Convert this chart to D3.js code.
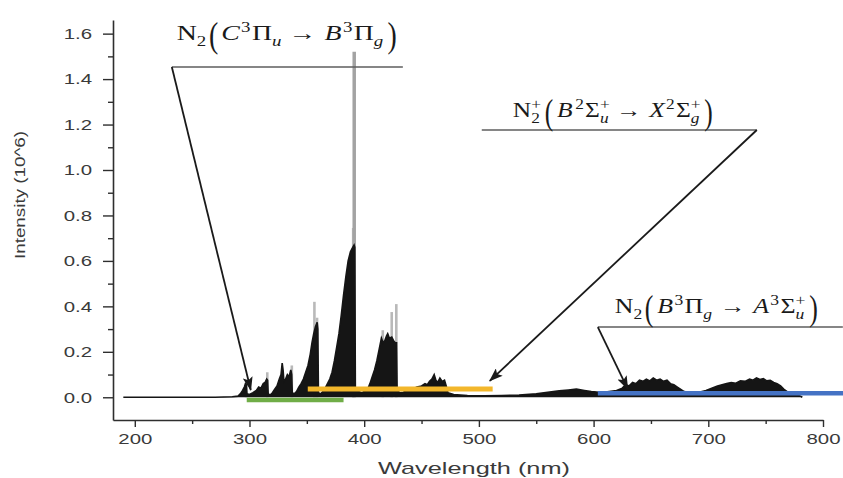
<!DOCTYPE html>
<html><head><meta charset="utf-8">
<script src="https://cdn.jsdelivr.net/npm/d3@7/dist/d3.min.js"></script>
<style>body{margin:0;background:#fff}svg{display:block}</style>
</head><body>
<svg id="c" width="843" height="478"></svg>
<script>
// ---------------- DATA ----------------
const xTicks = [200, 300, 400, 500, 600, 700, 800];
const xMinorTicks = [250, 350, 450, 550, 650, 750];
const yTicks = [0.0, 0.2, 0.4, 0.6, 0.8, 1.0, 1.2, 1.4, 1.6];
const yMinorTicks = [0.1, 0.3, 0.5, 0.7, 0.9, 1.1, 1.3, 1.5];

// black emission spectrum [wavelength nm, intensity 10^6]
const blackTrace = [
  [190,0],[200,0],[220,0],[250,0],[270,0],[285,0.002],[290,0.005],[292,0.015],[294,0.03],
  [295.5,0.045],[296.5,0.06],[297.3,0.055],[297.8,0.015],[300,0.012],[303,0.02],[306,0.03],
  [308,0.045],[310,0.04],[312,0.06],[313.5,0.065],[315,0.08],[315.8,0.075],[316.3,0.015],
  [318,0.01],[320,0.02],[322,0.035],[324,0.05],[326,0.08],[327.5,0.1],[328.5,0.15],[329.3,0.12],
  [330,0.07],[331.5,0.08],[333,0.1],[334.5,0.09],[336,0.12],[336.8,0.1],[337.3,0.02],[339,0.015],
  [341,0.025],[343,0.045],[345,0.06],[347,0.08],[349,0.11],[351,0.14],[353,0.19],[354.5,0.24],
  [356,0.28],[357.5,0.31],[359,0.33],[359.6,0.3],[360.1,0.02],[362,0.015],[364,0.025],[366,0.04],
  [368,0.06],[370,0.08],[372,0.11],[374,0.16],[376,0.22],[378,0.28],[380,0.36],[382,0.45],
  [384,0.53],[386,0.6],[388,0.64],[390,0.66],[391.2,0.67],[391.8,0.66],[392.3,0.03],[395,0.025],
  [398,0.02],[400,0.025],[403,0.035],[405,0.06],[407,0.09],[409,0.12],[411,0.16],[413,0.21],
  [415,0.26],[416.5,0.24],[418,0.25],[419.5,0.27],[420.5,0.28],[422,0.26],[424,0.265],[425.5,0.25],
  [427,0.24],[428.2,0.24],[428.7,0.03],[431,0.02],[434,0.022],[438,0.03],[442,0.035],[446,0.045],
  [450,0.05],[453,0.06],[455,0.055],[457,0.07],[459,0.08],[461,0.1],[462.5,0.075],[464,0.065],
  [466,0.085],[468,0.07],[470,0.075],[471.5,0.05],[473,0.02],[478,0.012],[490,0.008],[505,0.006],
  [520,0.008],[535,0.01],[550,0.015],[560,0.022],[570,0.028],[578,0.032],[585,0.036],[592,0.03],
  [598,0.025],[605,0.022],[612,0.024],[620,0.03],[625,0.04],[628,0.055],[631,0.05],[634,0.065],
  [637,0.06],[640,0.075],[643,0.07],[646,0.08],[649,0.072],[652,0.085],[655,0.075],[658,0.08],
  [661,0.07],[664,0.075],[667,0.06],[670,0.055],[673,0.045],[676,0.035],[679,0.025],[685,0.02],
  [692,0.022],[698,0.03],[703,0.04],[708,0.05],[712,0.055],[716,0.06],[720,0.065],[724,0.062],
  [728,0.072],[732,0.07],[736,0.08],[739,0.075],[742,0.085],[745,0.078],[748,0.082],[751,0.072],
  [754,0.075],[757,0.065],[760,0.06],[763,0.05],[766,0.035],[770,0.02],[775,0.012],[780,0.006],[782,0]
];

// grey (higher) line peaks
const greyPeakW = [297.0, 315.5, 336.9, 356.6, 358.9, 390.4, 391.3, 416.2, 424.0, 428.0];
const greyPeakI = [0.065, 0.11, 0.14, 0.42, 0.35, 0.745, 1.52, 0.295, 0.375, 0.41];

// band-system ranges (nm) and their level marks
const bandNames = ["N2 C-B", "N2+ B-X", "N2 B-A"];
const bandFrom = [297.6, 350.8, 603.7];
const bandTo = [382.0, 512.0, 838.0];
const bandLevel = [-0.012, 0.036, 0.018];

// annotation anchors in data units: label line start/end (nm), line level, arrow tip
const noteLineFrom = [232.3, 502.5, 603.7];
const noteLineTo = [433.7, 742.3, 817.3];
const noteLineLevel = [1.453, 1.176, 0.309];
const noteTipW = [301.1, 509.5, 629.8];
const noteTipI = [0.032, 0.072, 0.036];
const noteTextFrom = [236.6, 529.6, 618.5];
const noteTextTo = [428.4, 703.9, 795.5];
const noteTextLevel = [1.57, 1.233, 0.371];

// ---------------- CHART ----------------
const svg = d3.select("#c");
const x = d3.scaleLinear().domain([181, 800]).range([113, 823]);
const y = d3.scaleLinear().domain([-0.1, 1.66]).range([420, 20]);
const AX = "#2e2e2e";
const SANS = "'Liberation Sans', Arial, sans-serif";
const SERIF = "'Liberation Serif', 'Times New Roman', serif";

// grey peaks
svg.append("g").selectAll("line").data(greyPeakW).join("line")
  .attr("x1", d => x(d)).attr("x2", d => x(d))
  .attr("y1", y(0)).attr("y2", (d, i) => y(greyPeakI[i]))
  .attr("stroke", (d, i) => greyPeakI[i] > 1 ? "#a3a3a3" : "#b9b9b9")
  .attr("stroke-width", (d, i) => greyPeakI[i] > 1 ? 3.5 : 2.6);

// black spectrum
const area = d3.area().x(d => x(d[0])).y0(y(0)).y1(d => y(d[1]));
svg.append("path").datum(blackTrace).attr("d", area).attr("fill", "#151515");
svg.append("path").datum(blackTrace)
  .attr("d", d3.line().x(d => x(d[0])).y(d => y(d[1])))
  .attr("fill", "none").attr("stroke", "#151515").attr("stroke-width", 1.6);

// axes
function styleAxis(g) {
  g.selectAll("path.domain").attr("stroke", AX).attr("stroke-width", 1.6);
  g.selectAll(".tick line").attr("stroke", AX).attr("stroke-width", 1.4);
  g.selectAll(".tick text").attr("fill", "#3a3a3a").attr("font-family", SANS).attr("font-size", 15);
}
const gxm = svg.append("g").attr("transform", "translate(0,420)")
  .call(d3.axisBottom(x).tickValues(xMinorTicks).tickSize(4).tickFormat(""));
gxm.select(".domain").remove(); styleAxis(gxm);
const gym = svg.append("g").attr("transform", "translate(113,0)")
  .call(d3.axisLeft(y).tickValues(yMinorTicks).tickSize(5).tickFormat(""));
gym.select(".domain").remove(); styleAxis(gym);

const gx = svg.append("g").attr("transform", "translate(0,420)")
  .call(d3.axisBottom(x).tickValues(xTicks).tickSize(7).tickSizeOuter(0).tickPadding(6).tickFormat(d3.format("d")));
styleAxis(gx);
const gy = svg.append("g").attr("transform", "translate(113,0)")
  .call(d3.axisLeft(y).tickValues(yTicks).tickSize(10).tickSizeOuter(0).tickPadding(11).tickFormat(d3.format(".1f")));
styleAxis(gy);
// horizontal stretch of tick labels like the reference
svg.selectAll(".tick text").each(function () {
  const w = this.getComputedTextLength();
  if (w > 0) d3.select(this).attr("textLength", w * 1.36).attr("lengthAdjust", "spacingAndGlyphs");
});

// axis titles
const xt = svg.append("text").attr("x", 474).attr("y", 474).attr("text-anchor", "middle")
  .attr("font-family", SANS).attr("font-size", 17).attr("fill", "#3a3a3a").text("Wavelength (nm)");
xt.attr("textLength", 192).attr("lengthAdjust", "spacingAndGlyphs");
const yt = svg.append("text").attr("transform", "translate(25,195) rotate(-90)").attr("text-anchor", "middle")
  .attr("font-family", SANS).attr("font-size", 14).attr("fill", "#3a3a3a").text("Intensity (10^6)");
yt.attr("textLength", 128).attr("lengthAdjust", "spacingAndGlyphs");

// band level bars
const bandColors = ["#70ad47", "#f3b72b", "#4472c4"];
svg.append("g").selectAll("line").data(bandNames).join("line")
  .attr("x1", (d, i) => x(bandFrom[i])).attr("x2", (d, i) => x(bandTo[i]))
  .attr("y1", (d, i) => y(bandLevel[i])).attr("y2", (d, i) => y(bandLevel[i]))
  .attr("stroke", (d, i) => bandColors[i]).attr("stroke-width", (d, i) => i === 1 ? 5 : 4.5);

// arrow marker
svg.append("defs").append("marker").attr("id", "ah").attr("markerUnits", "userSpaceOnUse")
  .attr("viewBox", "0 0 14 10").attr("refX", 13).attr("refY", 5)
  .attr("markerWidth", 14).attr("markerHeight", 10).attr("orient", "auto")
  .append("path").attr("d", "M0,0 L14,5 L0,10 L3,5 Z").attr("fill", "#1a1a1a");

// annotation leader lines
const notes = d3.range(3);
svg.append("g").selectAll("line").data(notes).join("line")
  .attr("x1", i => x(noteLineFrom[i])).attr("x2", i => x(noteLineTo[i]))
  .attr("y1", i => y(noteLineLevel[i])).attr("y2", i => y(noteLineLevel[i]))
  .attr("stroke", "#5e5e5e").attr("stroke-width", 1.5);
svg.append("g").selectAll("line").data(notes).join("line")
  .attr("x1", i => x(i === 1 ? noteLineTo[i] : noteLineFrom[i]))
  .attr("y1", i => y(noteLineLevel[i]))
  .attr("x2", i => x(noteTipW[i])).attr("y2", i => y(noteTipI[i]))
  .attr("stroke", "#1a1a1a").attr("stroke-width", 1.8).attr("marker-end", "url(#ah)");

// math labels
function mathLabel(tokens, x0, x1, base, F) {
  const g = svg.append("g");
  let cx = 0;
  const mk = (t, size, dy, it) => g.append("text").attr("x", cx).attr("y", dy)
    .attr("font-family", SERIF).attr("font-size", size)
    .attr("font-style", it ? "italic" : "normal").attr("fill", "#1a1a1a").text(t);
  tokens.forEach(tk => {
    cx += tk.pre || 0;
    if (tk.stack) {
      const a = mk(tk.stack[0], F * 0.68, -F * 0.42, false);
      const b = mk(tk.stack[1], F * 0.68, F * 0.3, tk.it);
      cx += Math.max(a.node().getComputedTextLength(), b.node().getComputedTextLength());
    } else if (tk.paren) {
      const sy = 1.75;
      const p = g.append("text").attr("transform", `translate(${cx},${(0.255 * sy - 0.1) * F}) scale(1,${sy})`)
        .attr("font-family", SERIF).attr("font-size", F).attr("fill", "#1a1a1a").text(tk.t);
      cx += p.node().getComputedTextLength();
    } else {
      const size = tk.sub || tk.sup ? F * 0.68 : F;
      const dy = tk.sub ? F * 0.3 : tk.sup ? -F * 0.42 : 0;
      const e = mk(tk.t, size, dy, tk.it);
      cx += e.node().getComputedTextLength();
    }
    cx += tk.post || 0;
  });
  g.attr("transform", `translate(${x0},${base}) scale(${(x1 - x0) / cx},1)`);
}

const label1 = [
  {t: "N"}, {t: "2", sub: true}, {t: "(", paren: true, pre: 2, post: 2}, {t: "C", it: true},
  {t: "3", sup: true, pre: 1, post: 1}, {t: "Π"}, {t: "u", sub: true, it: true},
  {t: "→", pre: 5, post: 6}, {t: "B", it: true}, {t: "3", sup: true, pre: 1, post: 1}, {t: "Π"},
  {t: "g", sub: true, it: true, post: 3}, {t: ")", paren: true}
];
const label2 = [
  {t: "N"}, {stack: ["+", "2"]}, {t: "(", paren: true, pre: 3, post: 3}, {t: "B", it: true},
  {t: "2", sup: true, pre: 2, post: 1}, {t: "Σ"}, {stack: ["+", "u"], it: true},
  {t: "→", pre: 5, post: 6}, {t: "X", it: true}, {t: "2", sup: true, pre: 1, post: 1}, {t: "Σ"},
  {stack: ["+", "g"], it: true, post: 3}, {t: ")", paren: true}
];
const label3 = [
  {t: "N"}, {t: "2", sub: true}, {t: "(", paren: true, pre: 2, post: 3}, {t: "B", it: true},
  {t: "3", sup: true, pre: 1, post: 1}, {t: "Π"}, {t: "g", sub: true, it: true},
  {t: "→", pre: 6, post: 6}, {t: "A", it: true}, {t: "3", sup: true, pre: 1, post: 1}, {t: "Σ"},
  {stack: ["+", "u"], it: true, post: 3}, {t: ")", paren: true}
];
[label1, label2, label3].forEach((lab, i) =>
  mathLabel(lab, x(noteTextFrom[i]), x(noteTextTo[i]), y(noteTextLevel[i]), 20));
</script>
</body></html>
